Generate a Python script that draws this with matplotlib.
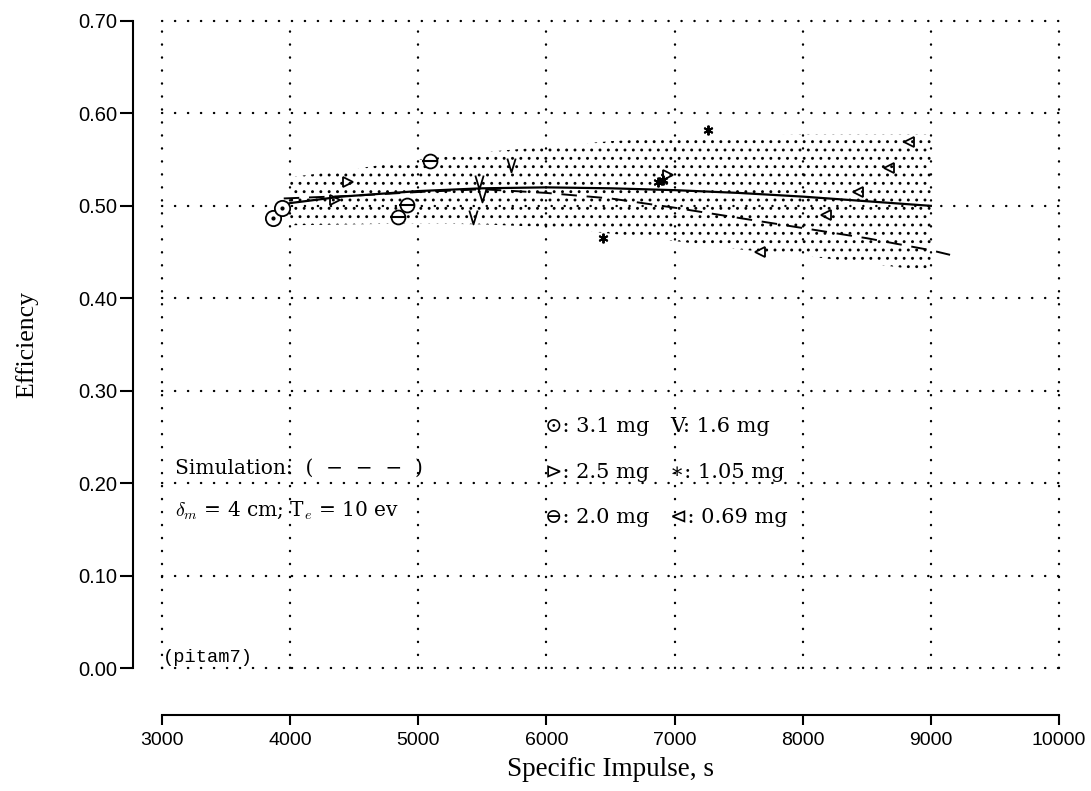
import matplotlib
matplotlib.use("Agg")
import matplotlib.pyplot as plt
from matplotlib.path import Path
import numpy as np

plt.rcParams['hatch.linewidth'] = 0.9
plt.rcParams['mathtext.fontset'] = 'cm'

# ---------------- data ----------------
circ_x = [3870, 3940]
circ_y = [0.487, 0.498]
tri_r_x = [4350, 4450, 6950]
tri_r_y = [0.506, 0.526, 0.533]
theta_x = [4840, 4910, 5090]
theta_y = [0.488, 0.501, 0.548]
v_x = [5430, 5470, 5500, 5720]
v_y = [0.488, 0.526, 0.512, 0.544]
star_x = [6440, 6870, 6910, 7260]
star_y = [0.465, 0.526, 0.528, 0.582]
tri_l_x = [7670, 8180, 8430, 8670, 8830]
tri_l_y = [0.450, 0.490, 0.515, 0.541, 0.569]

fit_x = [3950, 4000, 4400, 5000, 5500, 6000, 6500, 7000, 7500, 8000, 8500, 9000]
fit_y = [0.500, 0.503, 0.510, 0.516, 0.519, 0.520, 0.519, 0.517, 0.514, 0.510, 0.505, 0.500]

sim_x = [3950, 4500, 5000, 5500, 6000, 6500, 7000, 7500, 8000, 8500, 9000, 9150]
sim_y = [0.508, 0.511, 0.515, 0.518, 0.514, 0.508, 0.498, 0.487, 0.476, 0.465, 0.452, 0.447]

band_x = [4000, 4500, 5000, 5500, 6000, 6500, 7000, 7500, 8000, 8500, 9000]
band_hi = [0.531, 0.540, 0.550, 0.558, 0.564, 0.570, 0.574, 0.576, 0.577, 0.577, 0.577]
band_lo = [0.479, 0.480, 0.481, 0.480, 0.477, 0.470, 0.462, 0.453, 0.446, 0.438, 0.429]

x_ticks = [3000, 4000, 5000, 6000, 7000, 8000, 9000, 10000]
y_ticks = [0.0, 0.1, 0.2, 0.3, 0.4, 0.5, 0.6, 0.7]
y_ticklabels = ["0.00", "0.10", "0.20", "0.30", "0.40", "0.50", "0.60", "0.70"]

legend_left = ["\u2299: 3.1 mg", "\u22b3: 2.5 mg", "\u2296: 2.0 mg"]
legend_right = ["V: 1.6 mg", "\u2217: 1.05 mg", "\u22b2: 0.69 mg"]

# ---------------- figure ----------------
W, H, DPI = 1091, 791, 100
fig = plt.figure(figsize=(W / DPI, H / DPI), dpi=DPI)
ax = fig.add_axes([162 / W, 1 - 668 / H, (1059 - 162) / W, (668 - 21) / H])
ax.set_xlim(3000, 10000)
ax.set_ylim(0.0, 0.70)

# dotted grid including borders
grid_kw = dict(color='black', linewidth=1.7, linestyle=(0, (0.1, 5.4)),
               dash_capstyle='round', clip_on=False, zorder=1)
for xv in x_ticks:
    ax.plot([xv, xv], [0.0, 0.70], **grid_kw)
for yv in y_ticks:
    ax.plot([3000, 10000], [yv, yv], **grid_kw)

# stippled band
ax.fill_between(band_x, band_lo, band_hi, facecolor='none', edgecolor='black',
                hatch='..', linewidth=0, zorder=2)

# fit lines
ax.plot(fit_x, fit_y, color='black', linewidth=1.6, zorder=3)
ax.plot(sim_x, sim_y, color='black', linewidth=1.4, linestyle=(0, (8, 5)), zorder=3)

# data markers
v_marker = Path([(-0.6, 1.0), (0.0, -1.0), (0.6, 1.0)],
                [Path.MOVETO, Path.LINETO, Path.LINETO])
mk = dict(color='black', linestyle='none', zorder=4)
ax.plot(circ_x, circ_y, marker='o', markersize=11, markerfacecolor='white',
        markeredgewidth=1.3, **mk)
ax.plot(circ_x, circ_y, marker='.', markersize=4, **mk)
ax.plot(tri_r_x, tri_r_y, marker='>', markersize=7, markerfacecolor='none',
        markeredgewidth=1.3, **mk)
ax.plot(theta_x, theta_y, marker='o', markersize=10, markerfacecolor='white',
        markeredgewidth=1.3, **mk)
ax.plot(theta_x, theta_y, marker='_', markersize=12, markeredgewidth=1.5,
        color='black', linestyle='none', zorder=5)
ax.plot(v_x, v_y, marker=v_marker, markersize=10, markerfacecolor='none',
        markeredgewidth=1.3, **mk)
ax.plot(star_x, star_y, marker=(6, 2, 0), markersize=7, markeredgewidth=1.4, **mk)
ax.plot(tri_l_x, tri_l_y, marker='<', markersize=7, markerfacecolor='none',
        markeredgewidth=1.3, **mk)

# spines / ticks
for s in ['top', 'right']:
    ax.spines[s].set_visible(False)
ax.spines['left'].set_position(('outward', 29 * 72 / DPI))
ax.spines['bottom'].set_position(('outward', 47 * 72 / DPI))
ax.spines['left'].set_linewidth(1.5)
ax.spines['bottom'].set_linewidth(1.5)
ax.set_xticks(x_ticks)
ax.set_xticklabels([str(v) for v in x_ticks], fontfamily='Liberation Sans', fontsize=14)
ax.set_yticks(y_ticks)
ax.set_yticklabels(y_ticklabels, fontfamily='Liberation Sans', fontsize=14.5)
ax.tick_params(axis='y', direction='out', length=9.5, width=1.5, pad=2)
ax.tick_params(axis='x', direction='out', length=7, width=1.5, pad=5)
ax.patch.set_visible(False)

ax.set_xlabel("Specific Impulse, s", fontfamily='Liberation Serif', fontsize=19.5, labelpad=6)
ax.set_ylabel("Efficiency", fontfamily='Liberation Serif', fontsize=18.5)
ax.yaxis.set_label_coords(-0.138, 0.5)

# annotation texts
serif = ['DejaVu Serif', 'DejaVu Sans']
ax.text(3100, 0.216, "Simulation:  (  \u2212  \u2212  \u2212  )", fontsize=14.5,
        family=serif, va='center', ha='left', zorder=5)
ax.text(3100, 0.171, r"$\delta_m$ = 4 cm; T$_e$ = 10 ev", fontsize=14.5,
        family=serif, va='center', ha='left', zorder=5)
ax.text(3005, 0.011, "(pitam7)", fontsize=13.5, family=['Liberation Mono'],
        va='center', ha='left', zorder=5)

row_y = [0.261, 0.212, 0.163]
for left, right, yy in zip(legend_left, legend_right, row_y):
    ax.text(5990, yy, left, fontsize=15, family=serif,
            va='center', ha='left', zorder=5)
    ax.text(6966, yy, right, fontsize=15, family=serif,
            va='center', ha='left', zorder=5)

fig.savefig("out.png", dpi=DPI)
